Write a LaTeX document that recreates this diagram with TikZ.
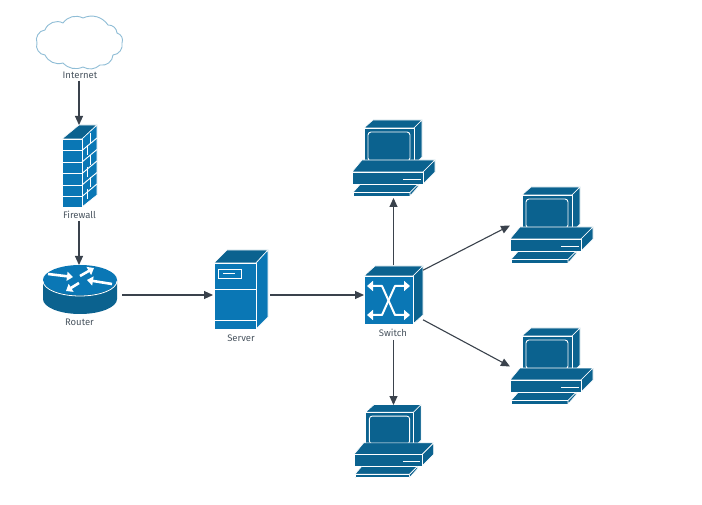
\documentclass[tikz,border=0pt]{standalone}
\usepackage{fontspec}
\setmainfont{Fira Sans}
\usetikzlibrary{arrows.meta}
\definecolor{dark}{HTML}{0B628F}
\definecolor{mid}{HTML}{0A77B5}
\definecolor{txt}{HTML}{4A5560}
\definecolor{wire}{HTML}{3A424C}
\definecolor{cloudline}{HTML}{8FBDD6}
\tikzset{
  x=1pt,y=-1pt,
  anchorbox/.style={inner sep=0pt,outer sep=0pt,minimum width=#1},
  lbl/.style={font=\fontsize{9.5}{12}\selectfont,text=txt,inner sep=1pt},
  wirearrow/.style={draw=wire,line width=1.1pt,-{Triangle[length=9pt,width=8pt]}},
  face/.style={draw=white,line width=0.6pt,line join=round},
  wl/.style={draw=white,line width=0.9pt},
  wa/.style={draw=white,line width=2.6pt,-{Triangle[length=6pt,width=9pt]}},
  sw/.style={draw=white,line width=2pt,{Triangle[length=6pt,width=10pt]}-{Triangle[length=6pt,width=10pt]},line join=round},
  pcicon/.pic={
    \path[face,fill=dark] (12,7) -- (21,-1) -- (70,-1) -- (62,7) -- cycle;
    \path[face,fill=dark] (62,7) -- (70,-1) -- (70,36) -- (62,44) -- cycle;
    \path[face,fill=dark] (12,7) rectangle (62,44);
    \path[wl,rounded corners=3pt] (16,11) rectangle (58,40);
    \path[face,fill=dark] (0,51) -- (10,39) -- (83,39) -- (71,51) -- cycle;
    \path[face,fill=dark] (71,51) -- (83,39) -- (83,51) -- (71,63) -- cycle;
    \path[face,fill=dark] (0,51) rectangle (71,63);
    \path[wl] (51,58) -- (69,58);
    \path[face,fill=dark] (8,63.5) -- (66,63.5) -- (58,71.5) -- (1,71.5) -- cycle;
    \path[face,fill=dark] (1,71.5) -- (58,71.5) -- (58,75) -- (1,75) -- cycle;
    \path[face,fill=dark] (58,71.5) -- (66,63.5) -- (66,66) -- (58,75) -- cycle;
  }
}
\begin{document}
\begin{tikzpicture}
\useasboundingbox[fill=white] (0,0) rectangle (702,505);

% cloud
\draw[cloudline,fill=white,line width=0.9pt,line join=round]
  (37,43) to[bend left=55] (45,30) to[bend left=50] (63,23) to[bend left=40] (83,18)
  to[bend left=40] (108,25) to[bend left=45] (117,33) to[bend left=50] (122,43)
  to[bend left=50] (113,55) to[bend left=50] (100,65) to[bend left=35] (83,67)
  to[bend left=35] (63,63) to[bend left=40] (45,55) to[bend left=55] cycle;
\node[lbl] (internetlabel) at (80,75) {Internet};

% firewall
\path[face,fill=dark] (62,139) -- (79,125) -- (97,125) -- (82,139) -- cycle;
\path[face,fill=mid] (82,139) -- (97,125) -- (97,195) -- (82,207) -- cycle;
\path[face,fill=mid] (62,139) rectangle (82,207);
\foreach \yy in {150.5,162,173.5,185,196.5}{
  \path[wl] (62,\yy) -- (82,\yy);
  \path[wl] (82,\yy) -- (97,\yy-12.5);
}
\foreach \ya in {133,155,177}{
  \path[wl] (90,\ya) -- (90,\ya+10.5);
}
\foreach \ya in {145,167,189}{
  \path[wl] (87,\ya) -- (87,\ya+10);
}
\node[anchorbox=36pt,minimum height=82pt] (firewall) at (79,166) {};
\node[lbl] (firewalllabel) at (79.5,215) {Firewall};

% router
\path[fill=dark] (43,280) -- (43,299) .. controls (43,307.3) and (59.6,314) .. (80,314)
  .. controls (100.4,314) and (117,307.3) .. (117,299) -- (117,280) -- cycle;
\path[fill=mid] (80,280) ellipse[x radius=37,y radius=15];
\path[draw=white,line width=0.8pt] (43,281) .. controls (43,289.3) and (59.6,296) .. (80,296)
  .. controls (100.4,296) and (117,289.3) .. (117,281);
\path[wa] (48,274) -- (73,277);
\path[wa] (80,276) -- (94,268);
\path[wa] (112,284) -- (87,280);
\path[wa] (79,283) -- (66,291);
\node[anchorbox=80pt,minimum height=60pt] (router) at (82,295) {};
\node[lbl] (routerlabel) at (79.5,322) {Router};

% server
\path[face,fill=dark] (214,263) -- (227,250) -- (268,250) -- (256,263) -- cycle;
\path[face,fill=mid] (256,263) -- (268,250) -- (268,317) -- (256,329) -- cycle;
\path[face,fill=mid] (214,263) rectangle (256,329);
\path[wl] (214,289) -- (256,289);
\path[wl] (214,320) -- (256,320);
\path[wl] (218,269) rectangle (241,278);
\path[wl] (223,273.5) -- (235,273.5);
\node[anchorbox=57pt,minimum height=80pt] (server) at (241.5,295) {};
\node[lbl] (serverlabel) at (241,338) {Server};

% switch
\path[face,fill=dark] (364,276) -- (375,266) -- (423,266) -- (413,276) -- cycle;
\path[face,fill=dark] (413,276) -- (423,266) -- (423,315) -- (413,324) -- cycle;
\path[face,fill=mid] (364,276) rectangle (413,324);
\path[sw] (367,286) -- (382,286) -- (395,315) -- (410,315);
\path[sw] (410,286) -- (395,286) -- (382,315) -- (367,315);
\node[anchorbox=59pt,minimum height=59pt] (switch) at (393.5,295) {};
\node[lbl] (switchlabel) at (393,333) {Switch};

% computers
\pic at (352,121) {pcicon};
\pic at (510,188) {pcicon};
\pic at (510,329) {pcicon};
\pic[scale=.96] at (354,405.5) {pcicon};
\node[anchorbox=83pt,minimum height=77pt] (pca) at (393.5,159.5) {};
\node[anchorbox=84pt,minimum height=75pt] (pcb) at (552,225.5) {};
\node[anchorbox=84pt,minimum height=75pt] (pcc) at (552,366.5) {};
\node[anchorbox=80pt,minimum height=74pt] (pcd) at (393.5,442) {};

% connectors
\draw[wirearrow] (internetlabel.south -| firewall.north) ++(0,1) -- (firewall.north);
\draw[wirearrow] (firewalllabel.south -| firewall.north) ++(0,1) -- (router.north -| firewall.north);
\draw[wirearrow] (router.east) -- (server.west);
\draw[wirearrow] (server.east) -- (switch.west);
\draw[wirearrow] (switch.north) -- (pca.south);
\draw[wirearrow] (switch.40) -- (pcb.west);
\draw[wirearrow] (switch.-40) -- (pcc.west);
\draw[wirearrow] (switchlabel.south -| pcd.north) ++(0,2) -- (pcd.north);
\end{tikzpicture}
\end{document}
